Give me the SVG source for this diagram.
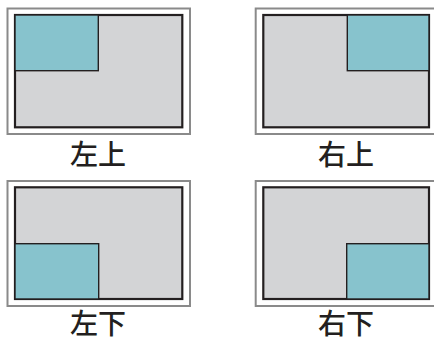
<svg xmlns="http://www.w3.org/2000/svg" width="434" height="341" viewBox="0 0 434 341">
<style>
.frame{fill:#fff;stroke:#8a8a8a;stroke-width:2}
.screen{fill:#d3d4d6;stroke:#231f20;stroke-width:2.2}
.win{fill:#87c3cd;stroke:#231f20;stroke-width:1.4}
.lbl{font-family:"Noto Sans CJK SC","Noto Sans CJK JP",sans-serif;font-size:28px;font-weight:500;fill:#231f20;text-anchor:middle}
</style>
<rect width="434" height="341" fill="#fff"/>
<g id="top-left">
<rect class="frame" x="7.5" y="8.5" width="182.5" height="125.5"/>
<rect class="screen" x="15" y="15" width="167.3" height="112.3"/>
<rect class="win" x="15" y="15" width="83.3" height="55.7"/>
<text class="lbl" x="98" y="165">左上</text>
</g>
<g id="top-right">
<rect class="frame" x="255.7" y="8.5" width="182" height="125.5"/>
<rect class="screen" x="263.3" y="15" width="165.7" height="112.3"/>
<rect class="win" x="347.3" y="15" width="81.7" height="55.7"/>
<text class="lbl" x="346" y="165">右上</text>
</g>
<g id="bottom-left">
<rect class="frame" x="7.5" y="181" width="182.5" height="125"/>
<rect class="screen" x="15" y="187.3" width="167.3" height="111.7"/>
<rect class="win" x="15" y="243.7" width="83.7" height="55.3"/>
<text class="lbl" x="98" y="333.5">左下</text>
</g>
<g id="bottom-right">
<rect class="frame" x="255.7" y="181" width="182" height="125"/>
<rect class="screen" x="263.3" y="187.3" width="165.7" height="111.7"/>
<rect class="win" x="346.7" y="243.7" width="82.3" height="55.3"/>
<text class="lbl" x="346" y="333.5">右下</text>
</g>
</svg>
